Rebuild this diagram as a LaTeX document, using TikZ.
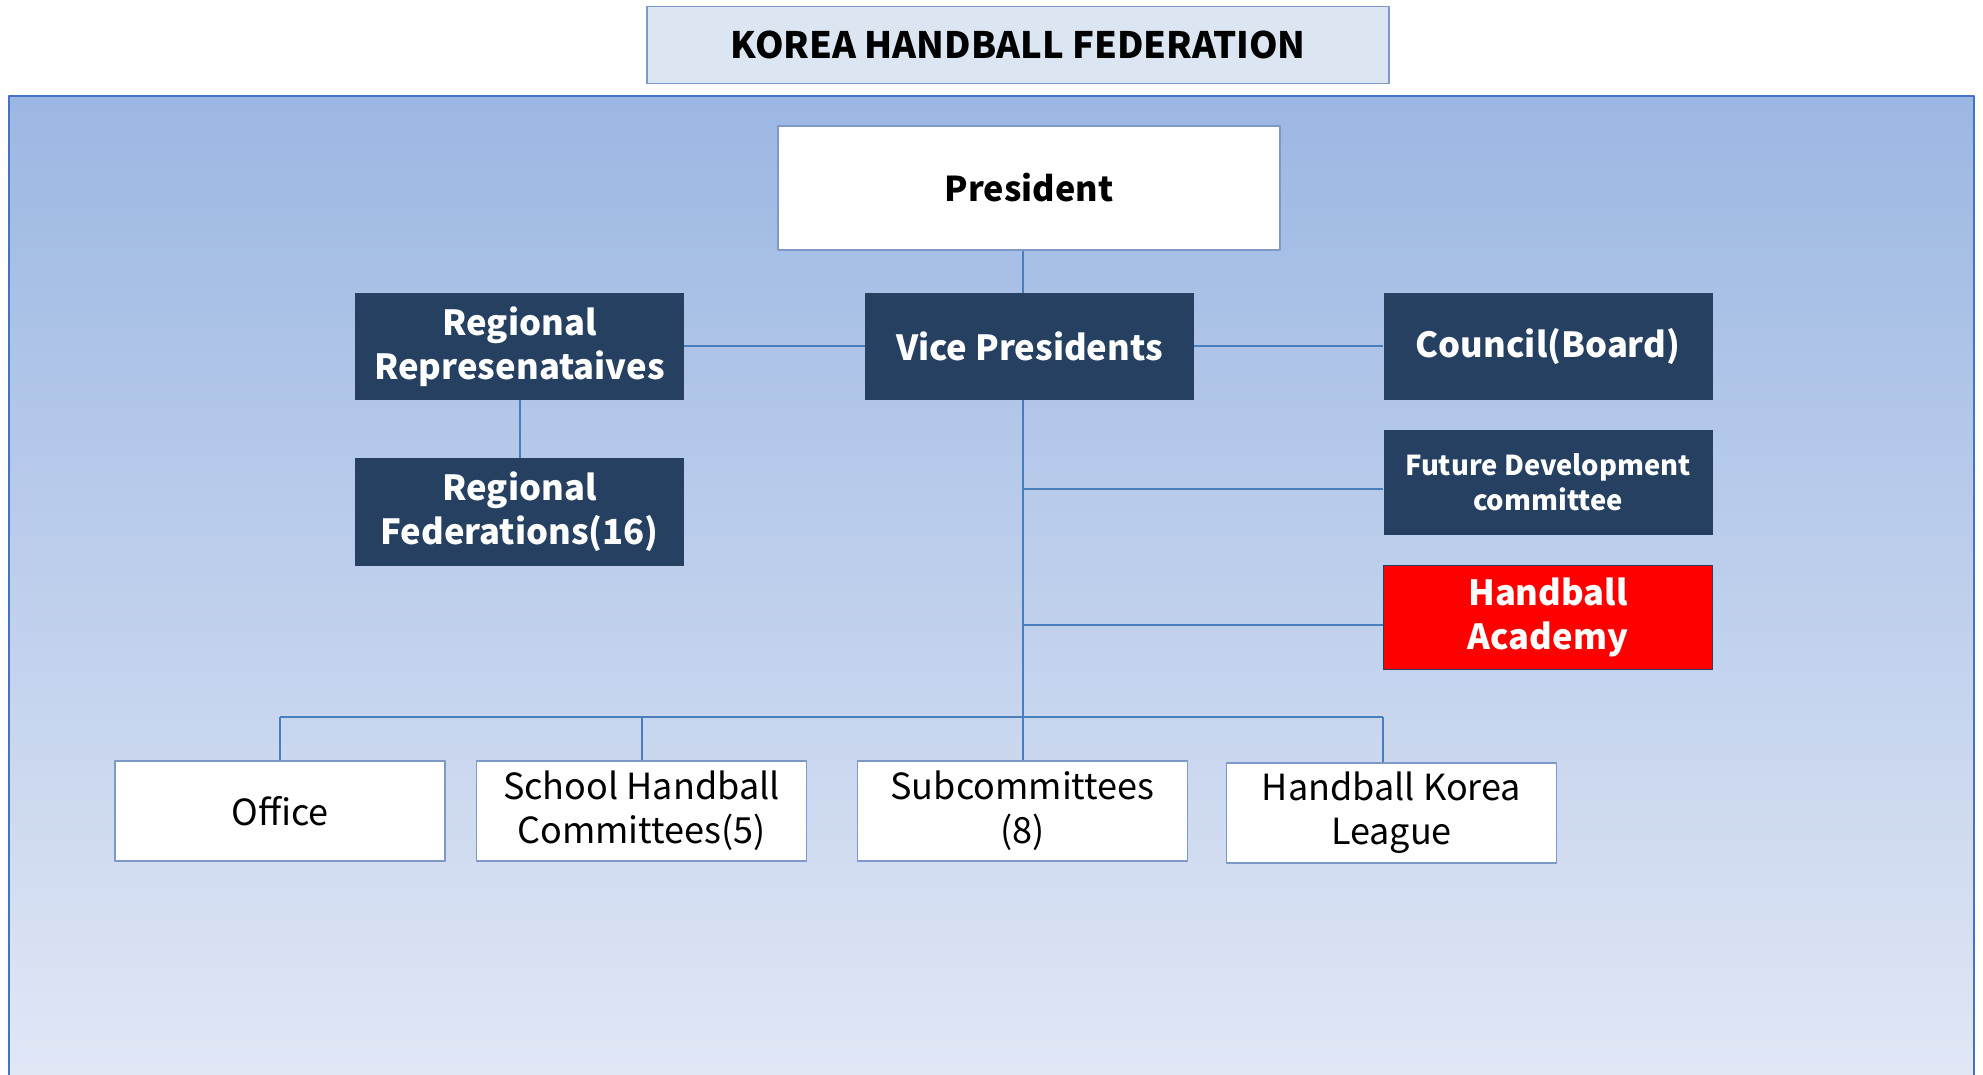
\documentclass[tikz,border=0pt]{standalone}
\usepackage{fontspec}
\setmainfont{Noto Sans CJK KR}
\usetikzlibrary{positioning}
\definecolor{panelTop}{RGB}{155,183,227}
\definecolor{panelBot}{RGB}{225,231,245}
\definecolor{panelLine}{RGB}{68,114,196}
\definecolor{navy}{RGB}{38,64,97}
\definecolor{linkBlue}{RGB}{74,126,187}
\definecolor{titleFill}{RGB}{220,230,242}
\definecolor{boxLine}{RGB}{126,153,200}
\begin{document}
\begin{tikzpicture}[x=0.5pt, y=-0.5pt, line join=round,
	darkbox/.style={fill=navy, text=white, font=\bfseries\fontsize{17.3}{22}\selectfont, align=center,
		minimum width=164.5pt, minimum height=53.5pt, inner sep=0pt},
	whitebox/.style={fill=white, draw=boxLine, line width=0.6pt, font=\fontsize{18}{22}\selectfont, align=center,
		minimum width=165pt, minimum height=50pt, inner sep=0pt},
	link/.style={draw=linkBlue, line width=1pt}]
	\useasboundingbox (0,0) rectangle (1983,1075);
	% panel behind the chart
	\shade[top color=panelTop, bottom color=panelBot] (9,96) rectangle (1974,1075);
	\draw[panelLine, line width=0.6pt] (9,1075)--(9,96)--(1974,96)--(1974,1075);
	% title
	\node[fill=titleFill, draw=boxLine, line width=0.6pt, minimum width=371pt, minimum height=38.5pt,
		font=\bfseries\fontsize{18.2}{22}\selectfont] (title) at (1018,45) {KOREA\ HANDBALL\ FEDERATION};
	% top levels
	\node[whitebox, minimum width=251pt, minimum height=62pt, font=\bfseries\fontsize{17.1}{22}\selectfont] (pres) at (1029,188) {President};
	\node[darkbox] (vice) at (1029.5,346.5) {Vice Presidents};
	\node[darkbox] (regrep) at (519.5,346.5) {Regional\\Represenataives};
	\node[darkbox] (regfed) at (519.5,512) {Regional\\Federations(16)};
	\node[darkbox] (council) at (1548,346.5) {Council(Board)};
	\node[darkbox, minimum height=52.5pt, font=\bfseries\fontsize{13.7}{17.7}\selectfont] (future) at (1548,482.5) {Future Development\\committee};
	\node[darkbox, fill=red, draw=navy, line width=0.6pt, minimum height=52pt] (academy) at (1548,617.5) {Handball\\Academy};
	% bottom row
	\node[whitebox] (office) at (280,811) {Office};
	\node[whitebox] (school) at (641.5,811) {School Handball\\Committees(5)};
	\node[whitebox] (subcom) at (1022.5,811) {Subcommittees\\(8)};
	\node[whitebox] (league) at (1391.5,813) {Handball Korea\\League};
	\coordinate (bar) at (0,717);
	\coordinate (leaguetop) at ([xshift=-4.5pt]league.north);
	% connectors
	\draw[link] (subcom.north |- pres.south)--(subcom.north |- vice.north);
	\draw[link] (subcom.north |- vice.south)--(subcom.north);
	\draw[link] (regrep)--(vice);
	\draw[link] (vice)--(council);
	\draw[link] (regrep)--(regfed);
	\draw[link] (subcom.north |- 0,489)--(future.west |- 0,489);
	\draw[link] (subcom.north |- 0,625)--(academy.west |- 0,625);
	\draw[link] (office.north |- bar)--(leaguetop |- bar);
	\foreach \unit in {office.north,school.north,leaguetop}
		\draw[link] (\unit |- bar)--(\unit);
\end{tikzpicture}
\end{document}
